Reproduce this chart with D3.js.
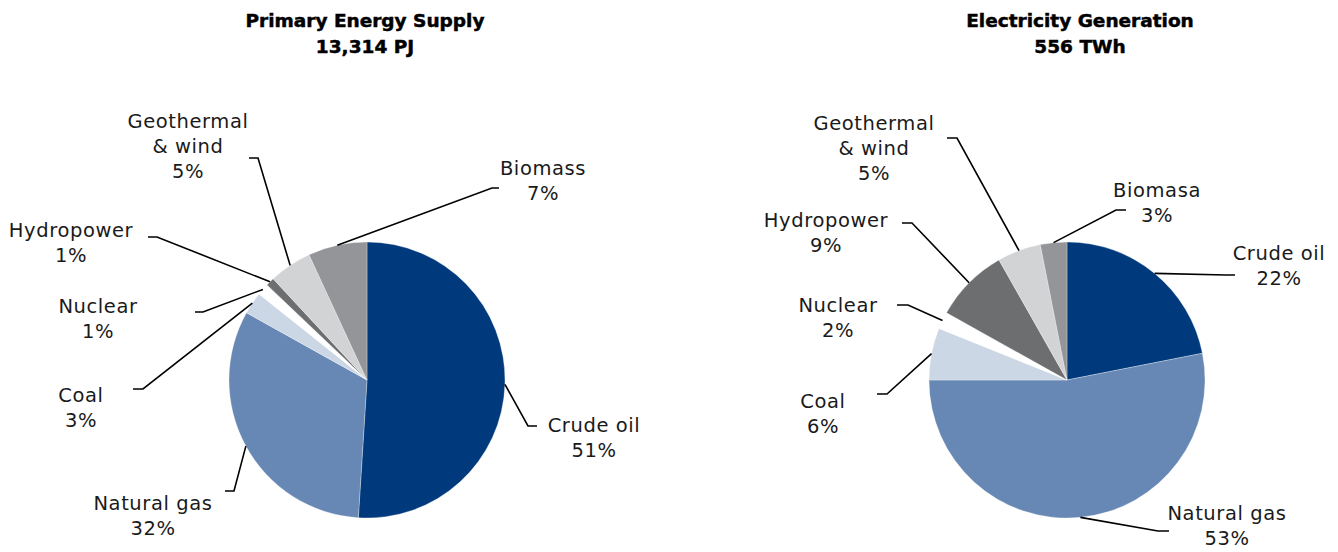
<!DOCTYPE html>
<html>
<head>
<meta charset="utf-8">
<script src="https://cdn.jsdelivr.net/npm/d3@7"></script>
<style>
  body { margin: 0; background: #fff; }
  svg { display: block; }
  .title { font-family: "DejaVu Sans", sans-serif; font-weight: bold; font-size: 18.5px; fill: #000; stroke: #000; stroke-width: 0.5px; }
  .label { font-family: "DejaVu Sans", sans-serif; font-size: 19.5px; letter-spacing: 0.6px; fill: #1a1a1a; }
</style>
</head>
<body>
<svg id="chart"></svg>
<script>
// chart data
const supplyCategories = ["Crude oil", "Natural gas", "Coal", "Nuclear", "Hydropower", "Geothermal\n& wind", "Biomass"];
const supplyShares = [51.0, 32.1, 2.6, 1.4, 1.0, 5.0, 6.9];
const supplyTitle = ["Primary Energy Supply", "13,314 PJ"];

const genCategories = ["Crude oil", "Natural gas", "Coal", "Nuclear", "Hydropower", "Geothermal\n& wind", "Biomasa"];
const genShares = [21.9, 53.1, 6.1, 2.0, 8.7, 5.1, 3.1];
const genTitle = ["Electricity Generation", "556 TWh"];

const sliceColors = ["#003a7d", "#6788b4", "#cbd7e5", "#ffffff", "#6d6e70", "#d2d3d5", "#939598"];

// label layout (absolute px): text centre x, first baseline y, elbow, stub end x
const supplyLabelPos = [
  { x: 594, y: 432, ex: 528, ey: 426, sx: 537 },
  { x: 153, y: 510, ex: 234, ey: 491, sx: 225 },
  { x: 81,  y: 402, ex: 143, ey: 389, sx: 133 },
  { x: 98,  y: 313, ex: 203, ey: 312, sx: 195 },
  { x: 71,  y: 237, ex: 157, ey: 237, sx: 148 },
  { x: 188, y: 128, ex: 258, ey: 158, sx: 249 },
  { x: 543, y: 175, ex: 492, ey: 188, sx: 499 }
];
const genLabelPos = [
  { x: 1279, y: 260, ex: 1226, ey: 275, sx: 1235 },
  { x: 1227, y: 520, ex: 1158, ey: 531, sx: 1169 },
  { x: 823,  y: 408, ex: 887,  ey: 394, sx: 877 },
  { x: 838,  y: 312, ex: 908,  ey: 305, sx: 897 },
  { x: 826,  y: 227, ex: 912,  ey: 223, sx: 902 },
  { x: 874,  y: 130, ex: 957,  ey: 138, sx: 947 },
  { x: 1157, y: 197, ex: 1116, ey: 210, sx: 1126 }
];

const width = 1338, height = 552;
const radius = 138;
const lineGap = 25;

const svg = d3.select("#chart")
  .attr("width", width)
  .attr("height", height);

const fmt = d3.format(".0f");

const drawPie = (cx, cy, titleLines, titleX, categories, shares, labelPos) => {
  // title
  svg.append("text")
    .attr("class", "title")
    .attr("text-anchor", "middle")
    .attr("x", titleX)
    .attr("y", 27)
    .selectAll("tspan")
    .data(titleLines)
    .enter()
    .append("tspan")
    .attr("x", titleX)
    .attr("dy", (d, i) => i === 0 ? 0 : 26)
    .text(d => d);

  const pie = d3.pie().sort(null).value(d => d.value);
  const arcs = pie(shares.map((v, i) => ({ value: v, name: categories[i], i })));
  const arc = d3.arc().innerRadius(0).outerRadius(radius);

  const g = svg.append("g").attr("transform", `translate(${cx},${cy})`);

  g.selectAll("path")
    .data(arcs)
    .enter()
    .append("path")
    .attr("d", arc)
    .attr("fill", d => sliceColors[d.data.i])
    .attr("stroke", "#fff")
    .attr("stroke-width", 0.3);

  // leader lines: from edge at mid angle to elbow, then short horizontal stub
  svg.selectAll(null)
    .data(arcs)
    .enter()
    .append("polyline")
    .attr("points", d => {
      const a = (d.startAngle + d.endAngle) / 2;
      const p = labelPos[d.data.i];
      const x0 = cx + radius * Math.sin(a);
      const y0 = cy - radius * Math.cos(a);
      return `${x0},${y0} ${p.ex},${p.ey} ${p.sx},${p.ey}`;
    })
    .attr("fill", "none")
    .attr("stroke", "#000")
    .attr("stroke-width", 1.6);

  // labels
  const labels = svg.selectAll(null)
    .data(arcs)
    .enter()
    .append("text")
    .attr("class", "label")
    .attr("text-anchor", "middle");

  labels.each(function(d) {
    const p = labelPos[d.data.i];
    const lines = d.data.name.split("\n").concat([fmt(d.data.value) + "%"]);
    d3.select(this).selectAll("tspan")
      .data(lines)
      .enter()
      .append("tspan")
      .attr("x", p.x)
      .attr("y", (t, j) => p.y + j * lineGap)
      .text(t => t);
  });
};

drawPie(367, 380, supplyTitle, 365, supplyCategories, supplyShares, supplyLabelPos);
drawPie(1067, 380, genTitle, 1080, genCategories, genShares, genLabelPos);
</script>
</body>
</html>
